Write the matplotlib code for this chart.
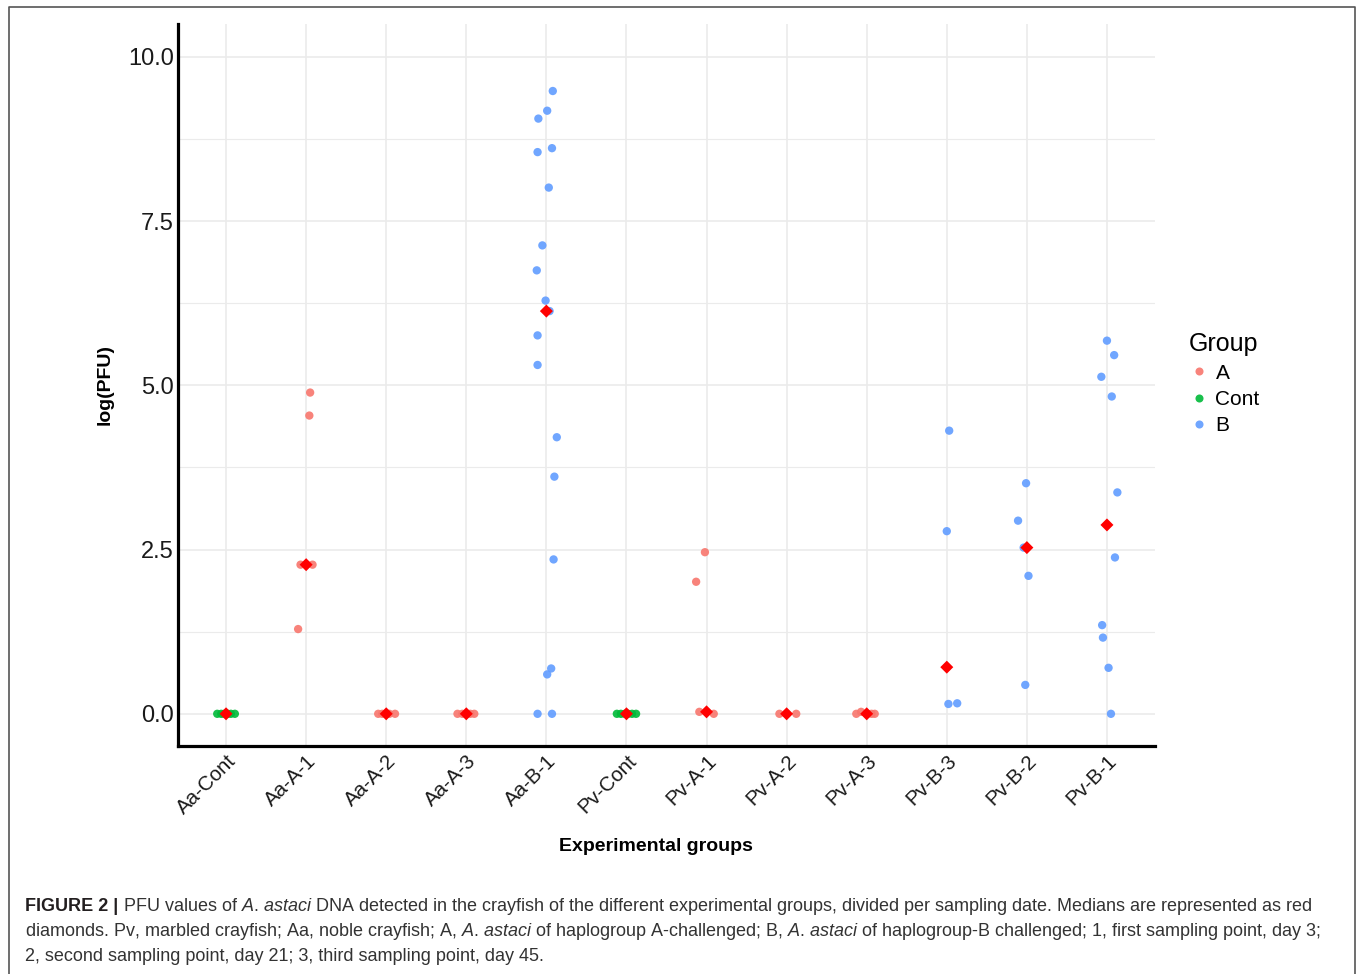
import numpy as np
import matplotlib
matplotlib.use("Agg")
import matplotlib.pyplot as plt
from matplotlib.lines import Line2D

plt.rcParams["font.family"] = ["Liberation Sans", "DejaVu Sans"]
plt.rcParams["mathtext.fontset"] = "custom"
plt.rcParams["mathtext.rm"] = "Liberation Sans"
plt.rcParams["mathtext.it"] = "Liberation Sans:italic"
plt.rcParams["mathtext.bf"] = "Liberation Sans:bold"

# ---- data -------------------------------------------------------------
categories = ["Aa-Cont", "Aa-A-1", "Aa-A-2", "Aa-A-3", "Aa-B-1", "Pv-Cont",
              "Pv-A-1", "Pv-A-2", "Pv-A-3", "Pv-B-3", "Pv-B-2", "Pv-B-1"]
treatment = ["Cont", "A", "A", "A", "B", "Cont", "A", "A", "A", "B", "B", "B"]
legend_order = ["A", "Cont", "B"]

aa_cont = [0.0, 0.0, 0.0, 0.0, 0.0, 0.0]
aa_a1 = [4.89, 4.54, 2.27, 2.27, 1.29]
aa_a2 = [0.0, 0.0, 0.0, 0.0]
aa_a3 = [0.0, 0.0, 0.0, 0.0]
aa_b1 = [9.48, 9.18, 9.06, 8.61, 8.55, 8.01, 7.13, 6.75, 6.29, 6.13,
         5.76, 5.31, 4.21, 3.61, 2.35, 0.69, 0.60, 0.0, 0.0]
pv_cont = [0.0, 0.0, 0.0, 0.0, 0.0, 0.0]
pv_a1 = [2.46, 2.01, 0.03, 0.03, 0.0]
pv_a2 = [0.0, 0.0, 0.0]
pv_a3 = [0.0, 0.03, 0.0, 0.0, 0.0]
pv_b3 = [4.31, 2.78, 0.71, 0.15, 0.16]
pv_b2 = [3.51, 2.94, 2.53, 2.10, 0.44]
pv_b1 = [5.68, 5.46, 5.13, 4.83, 3.37, 2.38, 1.35, 1.16, 0.70, 0.0]

# horizontal jitter of each point (category units)
aa_cont_jit = [-0.11, -0.06, -0.02, 0.02, 0.06, 0.11]
aa_a1_jit = [0.05, 0.04, -0.07, 0.08, -0.10]
aa_a2_jit = [-0.10, -0.05, 0.04, 0.11]
aa_a3_jit = [-0.11, -0.05, 0.05, 0.10]
aa_b1_jit = [0.08, 0.01, -0.10, 0.07, -0.11, 0.03, -0.05, -0.12, -0.01, 0.04,
             -0.11, -0.11, 0.13, 0.10, 0.09, 0.06, 0.01, -0.11, 0.07]
pv_cont_jit = [-0.12, -0.07, -0.02, 0.02, 0.07, 0.12]
pv_a1_jit = [-0.02, -0.13, -0.09, 0.0, 0.09]
pv_a2_jit = [-0.09, 0.0, 0.12]
pv_a3_jit = [-0.13, -0.07, 0.0, 0.06, 0.10]
pv_b3_jit = [0.03, 0.0, 0.0, 0.02, 0.13]
pv_b2_jit = [-0.01, -0.11, -0.04, 0.02, -0.02]
pv_b1_jit = [0.0, 0.09, -0.07, 0.06, 0.13, 0.10, -0.06, -0.05, 0.02, 0.05]

values = [aa_cont, aa_a1, aa_a2, aa_a3, aa_b1, pv_cont,
          pv_a1, pv_a2, pv_a3, pv_b3, pv_b2, pv_b1]
jitters = [aa_cont_jit, aa_a1_jit, aa_a2_jit, aa_a3_jit, aa_b1_jit, pv_cont_jit,
           pv_a1_jit, pv_a2_jit, pv_a3_jit, pv_b3_jit, pv_b2_jit, pv_b1_jit]

palette = {"A": "#F8766D", "Cont": "#00BA38", "B": "#619CFF"}

# ---- figure -----------------------------------------------------------
W, H = 1360, 974
fig = plt.figure(figsize=(W / 100, H / 100), dpi=100)
fig.patch.set_facecolor("white")
ax = fig.add_axes([178 / W, 1 - 746 / H, (1155 - 178) / W, (746 - 24) / H])

for i, (vals, jit, grp) in enumerate(zip(values, jitters, treatment)):
    x = i + np.asarray(jit)
    ax.scatter(x, vals, s=36, color=palette[grp], alpha=0.9,
               edgecolors="none", zorder=3)
    ax.scatter([i], [np.median(vals)], marker="D", s=44, color="#FF0000",
               edgecolors="none", zorder=4)

ax.set_xlim(-0.6, len(categories) - 1 + 0.6)
ax.set_ylim(-0.49, 10.5)
ax.set_xticks(range(len(categories)))
ax.set_xticklabels(categories, rotation=45, ha="right", va="top",
                   rotation_mode="anchor", fontsize=14.8, color="#1a1a1a")
ax.set_yticks([0, 2.5, 5.0, 7.5, 10.0])
ax.set_yticklabels([f"{v:.1f}" for v in [0, 2.5, 5.0, 7.5, 10.0]],
                   fontsize=17, color="#1a1a1a")
ax.set_yticks([1.25, 3.75, 6.25, 8.75], minor=True)
ax.tick_params(axis="both", which="both", length=0)
ax.tick_params(axis="y", pad=3)
ax.tick_params(axis="x", pad=4)

ax.grid(True, which="major", color="#EBEBEB", lw=1.2, zorder=0)
ax.grid(True, which="minor", axis="y", color="#EBEBEB", lw=0.8, zorder=0)
ax.set_axisbelow(True)

for side in ("top", "right"):
    ax.spines[side].set_visible(False)
for side in ("left", "bottom"):
    ax.spines[side].set_linewidth(2.3)
    ax.spines[side].set_color("black")

ax.set_ylabel("log(PFU)", fontsize=14, fontweight="bold")
ax.yaxis.set_label_coords(-0.066, 0.5)
ax.set_xlabel("Experimental groups", fontsize=14, fontweight="bold")
ax.xaxis.set_label_coords(0.489, -0.127)

# ---- legend -----------------------------------------------------------
handles = [Line2D([], [], linestyle="none", marker="o", markersize=5.8,
                  markerfacecolor=palette[g], markeredgecolor="none", alpha=0.9)
           for g in legend_order]
leg = fig.legend(handles, legend_order, title="Group", loc="upper left",
                 bbox_to_anchor=(1178 / W, 1 - 322 / H), frameon=False,
                 fontsize=15, title_fontsize=18, handlelength=1.0,
                 handletextpad=0.3, labelspacing=0.35, borderpad=0,
                 alignment="left")

# ---- frame around the figure -----------------------------------------
fig.add_artist(Line2D([8.5 / W, 8.5 / W, 1355 / W, 1355 / W],
                      [0, 1 - 7 / H, 1 - 7 / H, 0],
                      transform=fig.transFigure, color="#555555", lw=1.2))

# ---- caption ----------------------------------------------------------
cap_color = "#333333"
x0 = 25 / W
bold = fig.text(x0, 1 - 911 / H, "FIGURE 2 |", fontsize=13, fontweight="bold",
                color="#231F20", va="baseline", ha="left")
renderer = fig.canvas.get_renderer()
bb = bold.get_window_extent(renderer)
x1 = (bb.x1 + 5) / W
species = r"$\mathit{A}$. $\mathit{astaci}$"
fig.text(x1, 1 - 911 / H,
         "PFU values of " + species + " DNA detected in the crayfish of the "
         "different experimental groups, divided per sampling date. Medians are "
         "represented as red",
         fontsize=13, color=cap_color, va="baseline", ha="left")
fig.text(x0, 1 - 936 / H,
         "diamonds. Pv, marbled crayfish; Aa, noble crayfish; A, " + species +
         " of haplogroup A-challenged; B, " + species + " of haplogroup-B "
         "challenged; 1, first sampling point, day 3;",
         fontsize=13, color=cap_color, va="baseline", ha="left")
fig.text(x0, 1 - 961 / H,
         "2, second sampling point, day 21; 3, third sampling point, day 45.",
         fontsize=13, color=cap_color, va="baseline", ha="left")

fig.savefig("out.png", dpi=100, facecolor="white")
